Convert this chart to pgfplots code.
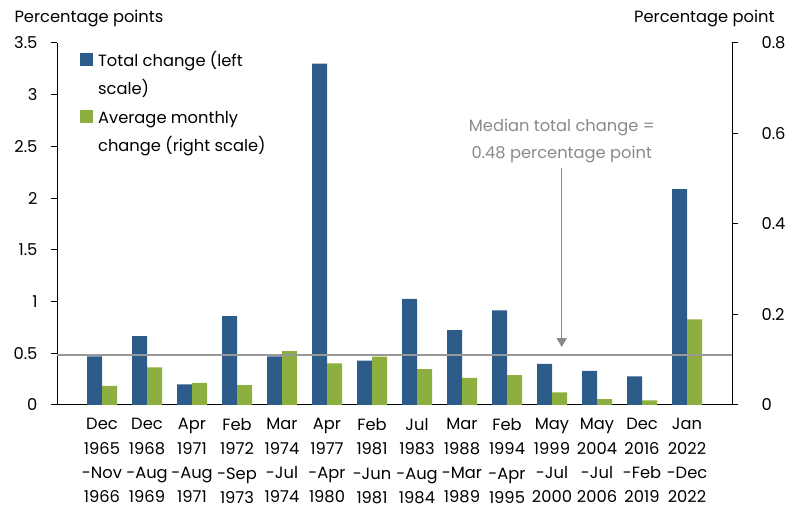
\documentclass[border=0pt]{standalone}
\usepackage{pgfplots}
\pgfplotsset{compat=1.18}
\usetikzlibrary{arrows.meta}
\usepackage{fontspec}
\setmainfont{Poppins}
\definecolor{cblue}{HTML}{2E5C8A}
\definecolor{cgreen}{HTML}{8CAF3F}
\definecolor{cgray}{HTML}{999999}
\definecolor{agray}{HTML}{8A8A8A}
\newcommand{\fs}{\fontsize{16.3}{19}\selectfont}
\begin{document}
\begin{tikzpicture}
\path (0pt,0pt) rectangle (791pt,510pt);
\pgfplotsset{
  common/.style={
    at={(57pt,105pt)}, anchor=south west,
    scale only axis, width=675pt, height=362pt,
    xmin=-1, xmax=14, ymin=0,
    /pgf/number format/assume math mode=true,
    tick label style={font=\fs},
    ybar, bar width=15pt,
  }
}
\begin{axis}[common,
  ymax=3.5,
  axis y line*=left, axis x line*=bottom,
  axis line style={line width=1pt},
  ytick={0,0.5,1,1.5,2,2.5,3,3.5},
  yticklabels={0,0.5,1,1.5,2,2.5,3,3.5},
  y tick style={line width=1pt, black}, tick align=outside, major tick length=6pt,
  yticklabel style={xshift=-10pt},
  xtick={0,...,13},
  xticklabels={{Dec\\1965\\-Nov\\1966},{Dec\\1968\\-Aug\\1969},{Apr\\1971\\-Aug\\1971},{Feb\\1972\\-Sep\\1973},{Mar\\1974\\-Jul\\1974},{Apr\\1977\\-Apr\\1980},{Feb\\1981\\-Jun\\1981},{Jul\\1983\\-Aug\\1984},{Mar\\1988\\-Mar\\1989},{Feb\\1994\\-Apr\\1995},{May\\1999\\-Jul\\2000},{May\\2004\\-Jul\\2006},{Dec\\2016\\-Feb\\2019},{Jan\\2022\\-Dec\\2022}},
  x tick label style={align=center, font=\fontsize{16.3}{24.3}\selectfont, yshift=-4pt},
  major x tick style={draw=none},
  legend cell align=left,
  legend style={draw=none, fill=none, at={(0.034,0.972)}, anchor=north west,
    font=\fs, inner sep=0pt, row sep=12.5pt,
    nodes={inner sep=0pt, text height=11.5pt, text depth=3.5pt}},
  legend image code/.code={\fill[#1] (0pt,-3.5pt) rectangle (13pt,9.5pt); \path (18pt,0pt);},
]
\addplot[fill=cblue, draw=none, bar shift=-7.5pt] coordinates {
(0,0.47) (1,0.667) (2,0.20) (3,0.86) (4,0.47) (5,3.30) (6,0.43) (7,1.025) (8,0.725) (9,0.916) (10,0.397) (11,0.33) (12,0.277) (13,2.086)};
\addlegendentry{Total change (left}
\addlegendimage{empty legend}
\addlegendentry{scale)}
\addlegendimage{fill=cgreen, draw=none}
\addlegendentry{Average monthly}
\addlegendimage{empty legend}
\addlegendentry{change (right scale)}
\end{axis}
\begin{axis}[common,
  ymax=0.8,
  axis y line*=right, axis x line=none,
  axis line style={line width=1pt},
  ytick={0,0.2,0.4,0.6,0.8},
  yticklabels={0,0.2,0.4,0.6,0.8},
  y tick style={line width=1pt, black}, tick align=outside, major tick length=6pt,
  yticklabel style={xshift=20pt},
]
\addplot[fill=cgreen, draw=none, bar shift=7.5pt] coordinates {
(0,0.042) (1,0.083) (2,0.049) (3,0.044) (4,0.119) (5,0.092) (6,0.107) (7,0.079) (8,0.060) (9,0.066) (10,0.028) (11,0.013) (12,0.010) (13,0.189)};
\addplot[sharp plot, cgray, line width=2pt, forget plot] coordinates {(-1,0.109714) (14,0.109714)};
\draw[agray, line width=1.5pt, -{Triangle[length=9pt,width=10pt]}] (axis cs:10.216,0.5234) -- (axis cs:10.216,0.128);
\node[agray, font=\fs, anchor=center] at (axis cs:10.216,0.6123) {Median total change =};
\node[agray, font=\fs, anchor=center] at (axis cs:10.216,0.5527) {0.48 percentage point};
\end{axis}
\node[anchor=base west, font=\fs] at (11pt,487.5pt) {Percentage points};
\node[anchor=base east, font=\fs] at (778pt,487.5pt) {Percentage point};
\end{tikzpicture}
\end{document}
